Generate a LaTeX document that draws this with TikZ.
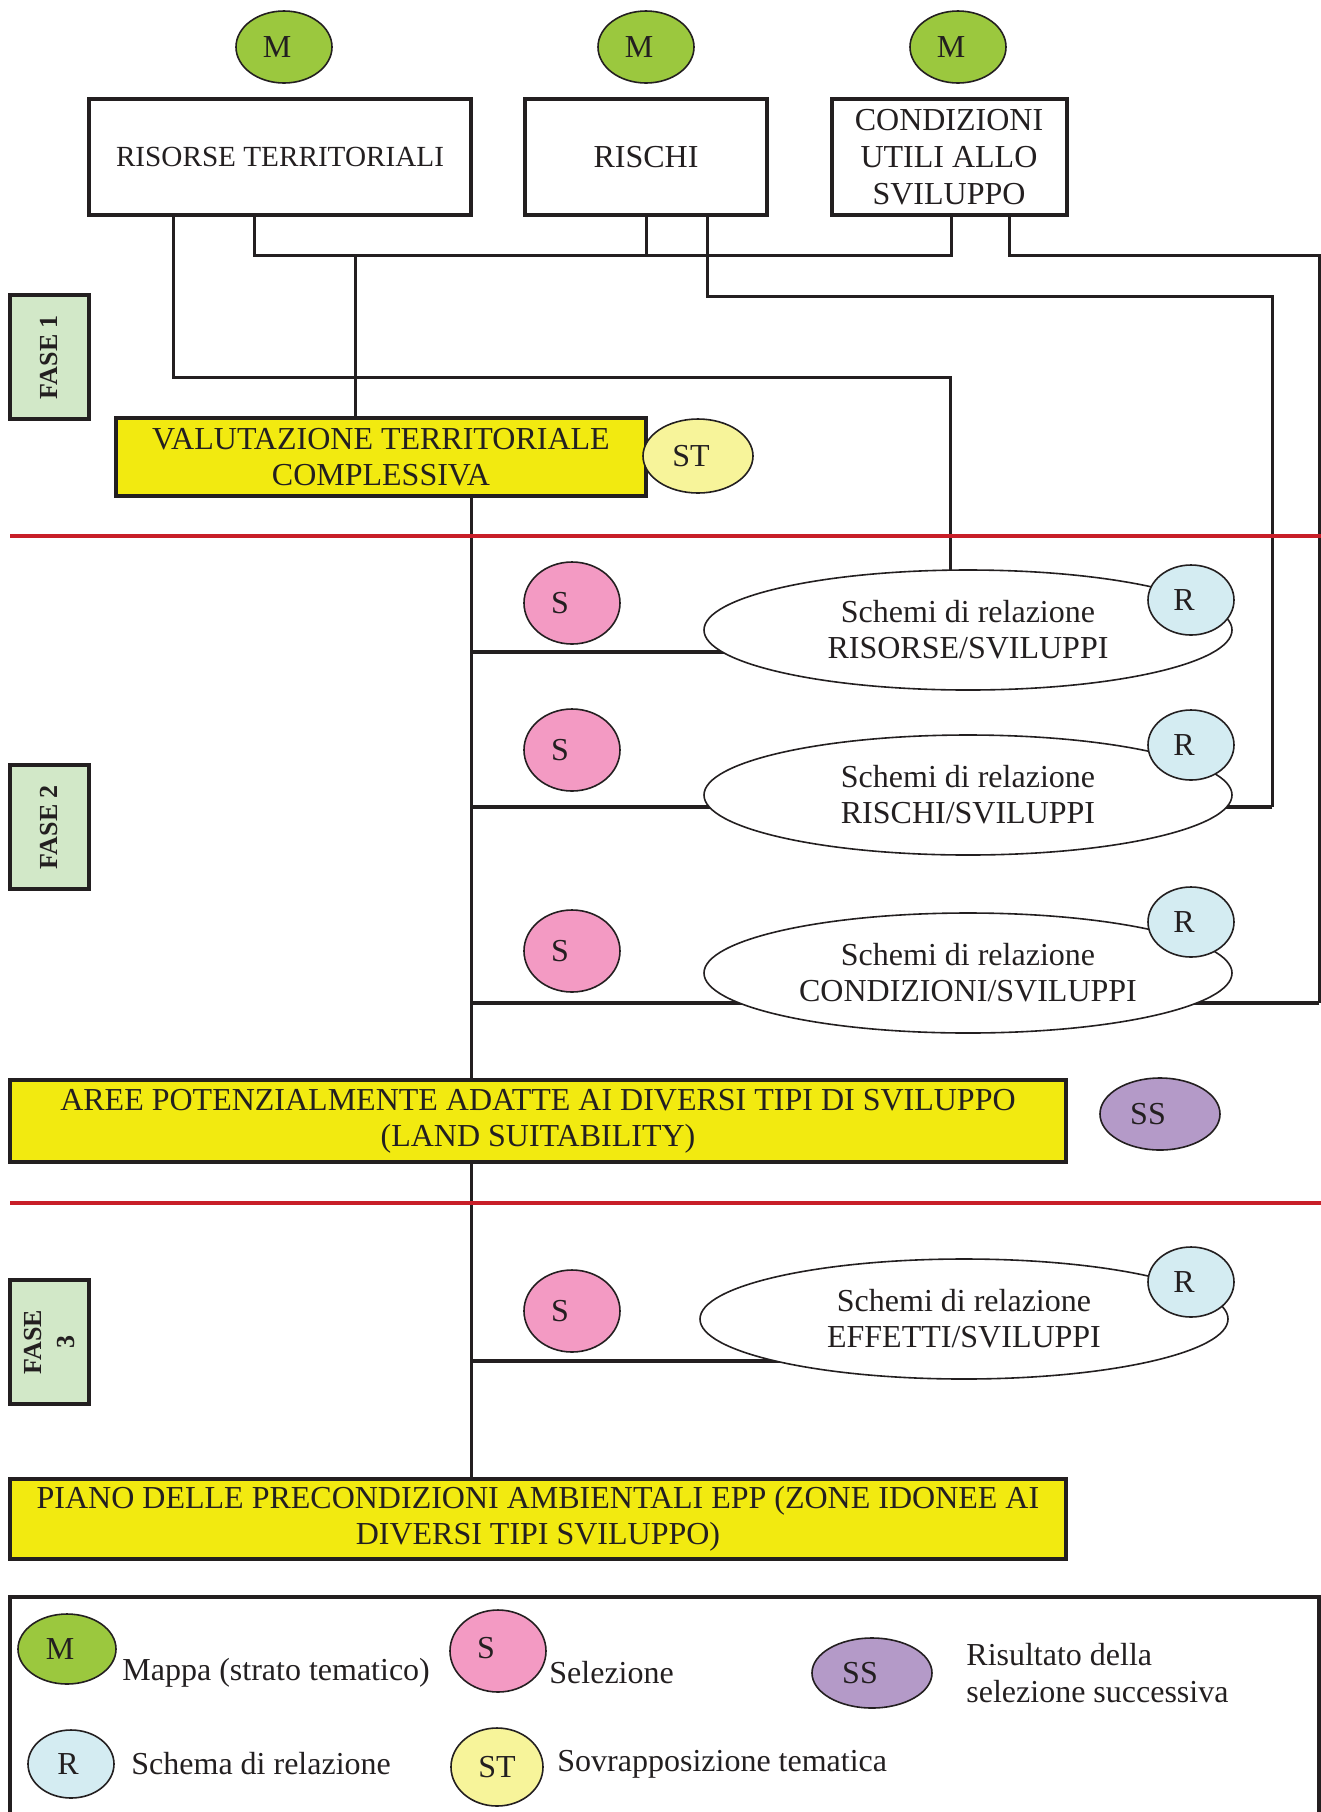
\documentclass[tikz,border=0pt]{standalone}
\usepackage{fontspec}
\setmainfont{Liberation Serif}
\usetikzlibrary{shapes.geometric,backgrounds}
\definecolor{mgreen}{RGB}{155,200,62}
\definecolor{spink}{RGB}{243,154,195}
\definecolor{rblue}{RGB}{212,236,242}
\definecolor{styellow}{RGB}{247,244,154}
\definecolor{sspurple}{RGB}{180,154,200}
\definecolor{boxyellow}{RGB}{242,234,16}
\definecolor{fasegreen}{RGB}{210,232,200}
\definecolor{redline}{RGB}{200,30,40}
\definecolor{ink}{RGB}{35,31,32}
\begin{document}
\begin{tikzpicture}[x=0.5pt,y=-0.5pt,
  every node/.style={font=\fontsize{16}{18}\selectfont, text=ink},
  oval/.style={ellipse, draw=ink, line width=0.8pt, inner sep=0pt, execute at begin node=\hspace*{-7pt}},
  mapnode/.style={oval, fill=mgreen, minimum width=48pt, minimum height=36pt},
  selnode/.style={oval, fill=spink, minimum width=48pt, minimum height=41pt, execute at begin node=\hspace*{-5pt}},
  relnode/.style={oval, fill=rblue, minimum width=43pt, minimum height=35pt},
  stnode/.style={oval, fill=styellow, minimum width=55pt, minimum height=37pt},
  ssnode/.style={oval, fill=sspurple, minimum width=60pt, minimum height=36pt, execute at begin node=\hspace*{-5pt}},
  schema/.style={ellipse, draw=ink, line width=0.8pt, inner sep=0pt, fill=white, minimum width=264pt, minimum height=60pt, align=center},
  box/.style={draw=ink, line width=2pt, fill=white, minimum height=58pt, inner sep=2pt, align=center},
  ybox/.style={box, fill=boxyellow},
  fase/.style={draw=ink, line width=2pt, fill=fasegreen, rotate=90, minimum width=62pt, minimum height=39.5pt, inner sep=1pt, align=center, font=\bfseries\fontsize{13}{16.5}\selectfont},
  conn/.style={draw=ink, line width=1.5pt},
  branch/.style={draw=ink, line width=2pt},
  redl/.style={draw=redline, line width=2pt},
  legtext/.style={anchor=west, align=left, inner sep=0pt}
]
\useasboundingbox (0,0) rectangle (1321,1812);

% top maps
\node[mapnode] (m1) at (284,47) {M};
\node[mapnode] (m2) at (646,47) {M};
\node[mapnode] (m3) at (958,47) {M};

% top boxes
\node[box, minimum width=191pt, font=\fontsize{14.6}{18}\selectfont] (ris) at (280,157) {RISORSE TERRITORIALI};
\node[box, minimum width=121pt] (risc) at (646,157) {RISCHI};
\node[box, minimum width=117.5pt, font=\fontsize{16}{18.5}\selectfont] (cond) at (949,157) {CONDIZIONI\\UTILI ALLO\\SVILUPPO};

% phases
\node[fase] (f1) at (49.5,357) {FASE 1};
\node[fase] (f2) at (49.5,827) {FASE 2};
\node[fase] (f3) at (49.5,1342) {FASE\\3};

% yellow boxes
\node[ybox, minimum width=265pt, minimum height=39pt] (val) at (381,457) {VALUTAZIONE TERRITORIALE\\COMPLESSIVA};
\node[stnode] (st) at (698,456) {ST};
\node[ybox, minimum width=528pt, minimum height=41pt] (aree) at (538,1121) {AREE POTENZIALMENTE ADATTE AI DIVERSI TIPI DI SVILUPPO\\(LAND SUITABILITY)};
\node[ssnode] (ss) at (1160,1114) {SS};
\node[ybox, minimum width=528pt, minimum height=40pt] (piano) at (538,1519) {PIANO DELLE PRECONDIZIONI AMBIENTALI EPP (ZONE IDONEE AI\\DIVERSI TIPI SVILUPPO)};

% relation schemes
\node[schema] (e1) at (968,630) {Schemi di relazione\\RISORSE/SVILUPPI};
\node[schema] (e2) at (968,795) {Schemi di relazione\\RISCHI/SVILUPPI};
\node[schema] (e3) at (968,973) {Schemi di relazione\\CONDIZIONI/SVILUPPI};
\node[schema] (e4) at (964,1319) {Schemi di relazione\\EFFETTI/SVILUPPI};

\node[relnode] (r1) at (1191,600) {R};
\node[relnode] (r2) at (1191,745) {R};
\node[relnode] (r3) at (1191,922) {R};
\node[relnode] (r4) at (1191,1282) {R};

\node[selnode] (s1) at (572,603) {S};
\node[selnode] (s2) at (572,750) {S};
\node[selnode] (s3) at (572,951) {S};
\node[selnode] (s4) at (572,1311) {S};

% legend
\draw[draw=ink, line width=2pt] (10,1597) rectangle (1319,1818);
\node[mapnode, minimum width=49pt, minimum height=35pt] (lm) at (67,1649) {M};
\node[legtext] (lmt) at (122,1673) {Mappa (strato tematico)};
\node[selnode] (ls) at (498,1651) {\raisebox{3pt}{S}};
\node[legtext] (lst) at (549,1673) {Selezione};
\node[ssnode, minimum height=35pt] (lss) at (872,1673) {SS};
\node[legtext, font=\fontsize{16}{18.5}\selectfont] (lsst) at (966,1673) {Risultato della\\selezione successiva};
\node[relnode, minimum height=34pt, execute at begin node=\hspace*{4pt}] (lr) at (71,1764) {R};
\node[legtext] (lrt) at (131,1764) {Schema di relazione};
\node[stnode, minimum width=46pt, minimum height=39pt, execute at begin node=\hspace*{7pt}] (lst2) at (497,1767) {ST};
\node[legtext] (lstt) at (557,1764) {Sovrapposizione tematica};

% connectors
\coordinate (k0) at (173,377);
\coordinate (k1) at (950,377);
\coordinate (b0) at (254,255);
\coordinate (b1) at (951,255);
\coordinate (b2) at (355,255);
\coordinate (c0) at (707,296);
\coordinate (c1) at (1272,296);
\coordinate (c2) at (1272,807);
\coordinate (d0) at (1009,255);
\coordinate (d1) at (1319,255);
\coordinate (d2) at (1319,1003);
\coordinate (t1) at (471,652);
\coordinate (t2) at (471,807);
\coordinate (t3) at (471,1003);
\coordinate (t4) at (471,1361);
\coordinate (rl1a) at (10,536);
\coordinate (rl1b) at (1321,536);
\coordinate (rl2a) at (10,1203);
\coordinate (rl2b) at (1321,1203);

\begin{pgfonlayer}{background}
\draw[conn] (ris.south -| k0) -- (k0) -- (k1) -- (k1 |- e1.center);
\draw[conn] (ris.south -| b0) -- (b0) -- (b1) -- (cond.south -| b1);
\draw[conn] (risc.south) -- (risc.south |- b0);
\draw[conn] (b2) -- (val.north -| b2);
\draw[conn] (risc.south -| c0) -- (c0) -- (c1) -- (c2);
\draw[branch] (c2) -- (c2 -| e2.center);
\draw[conn] (cond.south -| d0) -- (d0) -- (d1) -- (d2);
\draw[branch] (d2) -- (d2 -| e3.center);
\draw[conn] (val.south -| t1) -- (aree.north -| t1);
\draw[conn] (aree.south -| t1) -- (piano.north -| t1);
\draw[branch] (t1) -- (t1 -| e1.center);
\draw[branch] (t2) -- (t2 -| e2.center);
\draw[branch] (t3) -- (t3 -| e3.center);
\draw[branch] (t4) -- (t4 -| e4.center);
\draw[redl] (rl1a) -- (rl1b);
\draw[redl] (rl2a) -- (rl2b);
\end{pgfonlayer}
\end{tikzpicture}
\end{document}
